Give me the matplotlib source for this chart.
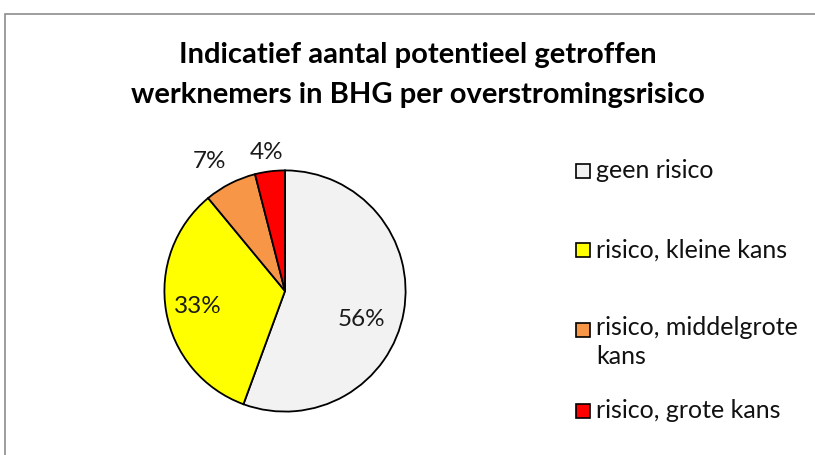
import matplotlib.pyplot as plt
from matplotlib.patches import Rectangle

categories = ['geen risico', 'risico, kleine kans', 'risico, middelgrote\nkans', 'risico, grote kans']
values = [55.6, 33.4, 7.0, 4.0]
colors = ['#F2F2F2', '#FFFF00', '#F79646', '#FF0000']
title = 'Indicatief aantal potentieel getroffen\nwerknemers in BHG per overstromingsrisico'

plt.rcParams['font.family'] = ['Lato', 'DejaVu Sans']

W, H = 815, 455
fig = plt.figure(figsize=(W / 100, H / 100), dpi=100)

# chart frame (cut off right and bottom like the screenshot)
fig.patches.append(Rectangle((5 / W, -0.2), 1.5, (H - 14) / H + 0.2, transform=fig.transFigure,
                             fill=False, edgecolor='#8c8c8c', linewidth=1.2))

fig.text(418 / W, 1 - 75 / H, title, ha='center', va='center', fontsize=21,
         fontweight='bold', linespacing=1.62)

# pie
cx, cy, r = 285, 291, 123
ax = fig.add_axes([(cx - r) / W, (H - cy - r) / H, 2 * r / W, 2 * r / H])
wedges, texts = ax.pie(values, colors=colors, startangle=90, counterclock=False,
                       radius=1, wedgeprops=dict(edgecolor='black', linewidth=1.3))
ax.set_xlim(-1.02, 1.02)
ax.set_ylim(-1.02, 1.02)
ax.set_aspect('equal')
ax.axis('off')

label_pos = [(0.63, -0.24), (-0.72, -0.13), (-0.63, 1.07), (-0.15, 1.15)]
for v, (x, y) in zip(values, label_pos):
    ax.text(x, y, f'{v:.0f}%', ha='center', va='center', fontsize=17.5, color='#1a1a1a')

# legend
leg_y = [171, 250, 330, 411]
for lab, col, y in zip(categories, colors, leg_y):
    fig.patches.append(Rectangle((576 / W, 1 - (y + 7) / H), 14 / W, 14 / H,
                                 transform=fig.transFigure, facecolor=col,
                                 edgecolor='black', linewidth=1.2))
    t = fig.text(596 / W, 1 - y / H, lab, ha='left', va='center',
                 fontsize=18, color='#111111', linespacing=1.3)
    if '\n' in lab:
        t.set_va('top')
        t.set_position((596 / W, 1 - (y - 14) / H))

fig.savefig('out.png', dpi=100)
